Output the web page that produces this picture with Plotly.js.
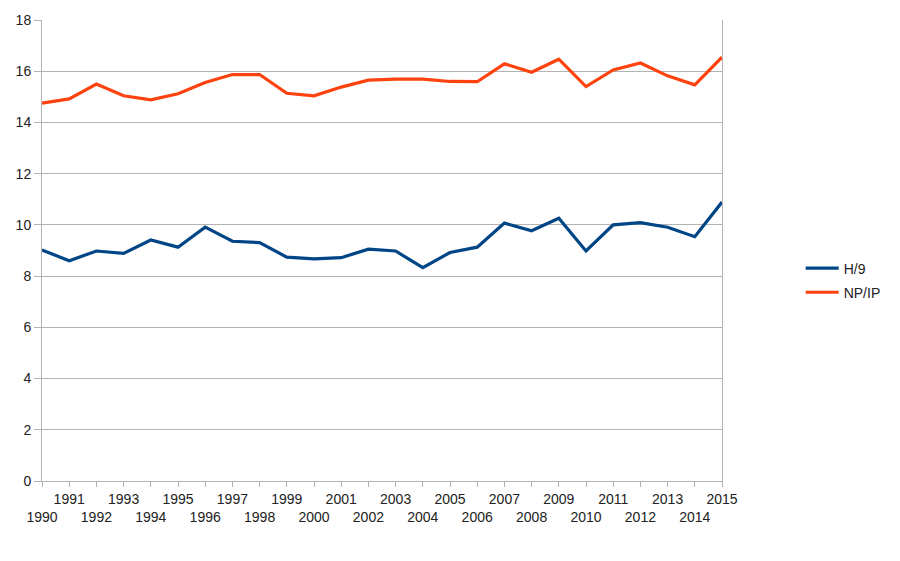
<!DOCTYPE html>
<html>
<head>
<meta charset="utf-8">
<script src="https://cdn.plot.ly/plotly-3.0.1.min.js"></script>
<style>html,body{margin:0;padding:0;background:#fff;}#chart{width:900px;height:561px;}</style>
</head>
<body>
<div id="chart"></div>
<script>
var years = [1990,1991,1992,1993,1994,1995,1996,1997,1998,1999,2000,2001,2002,2003,2004,2005,2006,2007,2008,2009,2010,2011,2012,2013,2014,2015];
var h9 = [9.02,8.6,8.98,8.89,9.41,9.13,9.91,9.36,9.31,8.74,8.67,8.72,9.05,8.98,8.33,8.92,9.13,10.07,9.77,10.26,8.98,10.0,10.09,9.91,9.54,10.89];
var npip = [14.75,14.92,15.5,15.04,14.88,15.12,15.56,15.87,15.87,15.14,15.04,15.38,15.65,15.69,15.69,15.6,15.59,16.29,15.96,16.47,15.4,16.05,16.32,15.82,15.47,16.55];
var yTicks = [0,2,4,6,8,10,12,14,16,18];

var tickText = years.map(function(y){ return (y % 2 === 0) ? '<br>' + y : String(y); });

var traces = [
  {x: years, y: h9, name: 'H/9', legendgroup: 'a', type: 'scatter', mode: 'lines', line: {color: '#004586', width: 3.2}},
  {x: years, y: npip, name: 'NP/IP', legendgroup: 'b', type: 'scatter', mode: 'lines', line: {color: '#ff420e', width: 3.2}}
];

var layout = {
  width: 900, height: 561,
  margin: {l: 42, r: 178, t: 20, b: 80, pad: 0},
  paper_bgcolor: '#fff', plot_bgcolor: '#fff',
  font: {family: 'Liberation Sans, Arial, sans-serif', size: 14, color: '#222'},
  showlegend: true,
  legend: {x: 1.1157, y: 0.435, xanchor: 'left', yanchor: 'middle', font: {size: 14, color: '#222'}, tracegroupgap: 3, itemwidth: 33, bgcolor: 'rgba(0,0,0,0)'},
  xaxis: {
    range: [1990, 2015], tickmode: 'array', tickvals: years, ticktext: tickText,
    showgrid: false, zeroline: false, showline: true, linecolor: '#b3b3b3', linewidth: 1,
    ticks: 'outside', ticklen: 5, tickcolor: '#b3b3b3', tickangle: 0,
    tickfont: {size: 14, color: '#222'}
  },
  yaxis: {
    range: [0, 18], tickmode: 'array', tickvals: yTicks,
    showgrid: true, gridcolor: '#b3b3b3', gridwidth: 1, zeroline: false,
    showline: true, mirror: true, linecolor: '#b3b3b3', linewidth: 1,
    ticks: 'outside', ticklen: 7, tickcolor: '#b3b3b3',
    tickfont: {size: 14, color: '#222'}
  }
};

Plotly.newPlot('chart', traces, layout, {displayModeBar: false, staticPlot: true});
</script>
</body>
</html>
